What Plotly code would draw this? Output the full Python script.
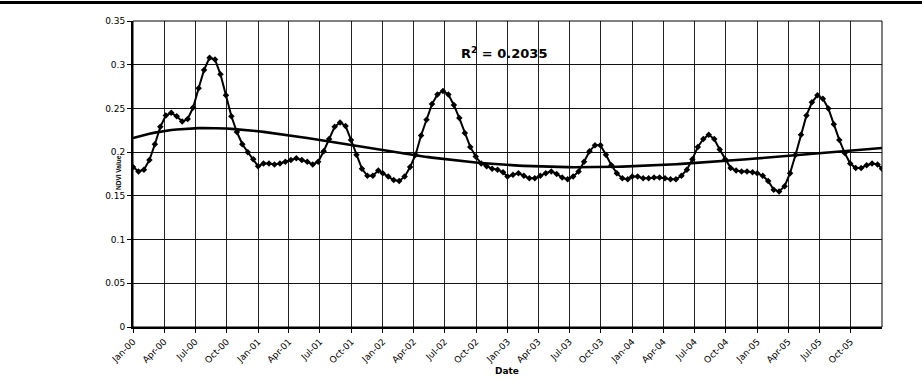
import datetime as dt
import numpy as np
import plotly.graph_objects as go

# 16-day composite NDVI, Jan 2000 - Jan 2006 (23 composites per year)
years = [2000, 2001, 2002, 2003, 2004, 2005]
composite_doy = [1, 17, 33, 49, 65, 81, 97, 113, 129, 145, 161, 177,
                 193, 209, 225, 241, 257, 273, 289, 305, 321, 337, 353]

ndvi = [
    0.183, 0.178, 0.180, 0.191, 0.209, 0.229, 0.242, 0.245, 0.241, 0.235,
    0.238, 0.251, 0.273, 0.294, 0.308, 0.306, 0.289, 0.265, 0.241, 0.223,
    0.209, 0.200, 0.192, 0.184, 0.187, 0.187, 0.186, 0.187, 0.189, 0.191,
    0.193, 0.191, 0.189, 0.186, 0.189, 0.201, 0.215, 0.229, 0.234, 0.230,
    0.214, 0.197, 0.181, 0.173, 0.173, 0.179, 0.176, 0.172, 0.168, 0.167,
    0.172, 0.183, 0.197, 0.219, 0.237, 0.255, 0.266, 0.270, 0.266, 0.254,
    0.239, 0.222, 0.206, 0.195, 0.187, 0.184, 0.181, 0.180, 0.177, 0.172,
    0.174, 0.176, 0.173, 0.170, 0.170, 0.173, 0.176, 0.178, 0.175, 0.171,
    0.169, 0.172, 0.178, 0.189, 0.201, 0.208, 0.208, 0.197, 0.185, 0.176,
    0.170, 0.169, 0.172, 0.172, 0.170, 0.170, 0.171, 0.171, 0.170, 0.169,
    0.169, 0.173, 0.180, 0.192, 0.206, 0.215, 0.220, 0.215, 0.203, 0.192,
    0.182, 0.179, 0.178, 0.178, 0.177, 0.176, 0.173, 0.167, 0.157, 0.155,
    0.161, 0.176, 0.197, 0.220, 0.242, 0.257, 0.265, 0.261, 0.250, 0.232,
    0.214, 0.199, 0.187, 0.182, 0.182, 0.185, 0.187, 0.186, 0.181,
]

quarter_labels = [f"{m}-{str(y)[2:]}" for y in years for m in ("Jan", "Apr", "Jul", "Oct")]
y_ticks = [0, 0.05, 0.1, 0.15, 0.2, 0.25, 0.3, 0.35]
y_tick_labels = ["0", "0.05", "0.1", "0.15", "0.2", "0.25", "0.3", "0.35"]
r2_text = "<b>R<sup>2</sup> = 0.2035</b>"
x_title = "<b>Date</b>"
y_title = "<b>NDVI Value</b>"

dates = [dt.date(y, 1, 1) + dt.timedelta(days=d - 1) for y in years for d in composite_doy]
dates.append(dt.date(2006, 1, 1))

# polynomial trend line fitted to the series
t = np.array([(d - dates[0]).days for d in dates], dtype=float)
tn = t / t[-1]
coef = np.polyfit(tn, np.array(ndvi), 5)
trend = np.polyval(coef, tn)

quarter_ticks = [dt.date(y, m, 1) for y in years for m in (1, 4, 7, 10)]

fig = go.Figure()
fig.add_trace(go.Scatter(
    x=dates, y=ndvi, mode="lines+markers",
    line=dict(color="black", width=2),
    marker=dict(symbol="diamond", size=5, color="black"),
    showlegend=False, hoverinfo="skip",
))
fig.add_trace(go.Scatter(
    x=dates, y=trend, mode="lines",
    line=dict(color="black", width=2.6),
    showlegend=False, hoverinfo="skip",
))

fig.update_layout(
    width=922, height=381,
    margin=dict(l=133, r=40, t=21, b=54),
    paper_bgcolor="white", plot_bgcolor="white",
    font=dict(family="DejaVu Sans", color="black"),
    xaxis=dict(
        type="date", range=[dates[0], dates[-1]],
        tickmode="array", tickvals=quarter_ticks, ticktext=quarter_labels,
        tickangle=-45, tickfont=dict(size=9),
        ticks="outside", ticklen=4, tickwidth=1, tickcolor="black",
        showgrid=True, gridcolor="#222", gridwidth=1,
        showline=True, linecolor="black", linewidth=2,
        zeroline=False,
    ),
    yaxis=dict(
        range=[0, 0.35], tickmode="array",
        tickvals=y_ticks, ticktext=y_tick_labels,
        tickfont=dict(size=9),
        ticks="outside", ticklen=4, tickwidth=1, tickcolor="black",
        showgrid=True, gridcolor="#111", gridwidth=1,
        showline=True, linecolor="black", linewidth=2,
        zeroline=False,
    ),
    shapes=[
        dict(type="rect", xref="paper", yref="paper", x0=0, x1=1, y0=0, y1=1,
             line=dict(color="black", width=1)),
        dict(type="line", xref="paper", yref="paper", x0=-0.2, x1=1.1,
             y0=1 + 18.5 / 306.6, y1=1 + 18.5 / 306.6,
             line=dict(color="black", width=3)),
    ],
    annotations=[
        dict(text=r2_text, xref="paper", yref="paper",
             x=(504 - 133) / 749, y=(327.3 - 53) / 306.6,
             showarrow=False, font=dict(size=13, family="DejaVu Sans", color="black"),
             xanchor="center", yanchor="middle"),
        dict(text=x_title, xref="paper", yref="paper",
             x=(507 - 133) / 749, y=(327.3 - 371) / 306.6,
             showarrow=False, font=dict(size=9, family="DejaVu Sans", color="black"),
             xanchor="center", yanchor="middle"),
        dict(text=y_title, xref="paper", yref="paper", textangle=-90,
             x=(118 - 133) / 749, y=(327.3 - 173) / 306.6,
             showarrow=False, font=dict(size=6.5, family="Liberation Sans", color="black"),
             xanchor="center", yanchor="middle"),
    ],
)

fig.write_html("out.html")
